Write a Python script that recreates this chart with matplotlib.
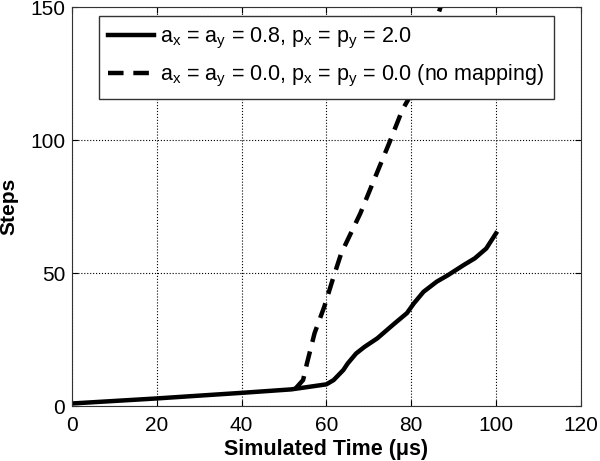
import numpy as np
import matplotlib.pyplot as plt

plt.rcParams['font.family'] = ['Liberation Sans', 'DejaVu Sans']

# solid: a = 0.8, p = 2.0
t_map = [0, 20, 40, 51.7, 60, 61.7, 64, 65, 67, 69, 72, 76, 79, 80.6, 82.9, 86, 88.7, 92.3, 95, 97.7, 100]
steps_map = [1.0, 2.9, 5.0, 6.3, 8.2, 9.8, 13.6, 16, 19.8, 22.3, 25.5, 31, 35, 38.6, 43, 46.8, 49.3, 53, 55.6, 59.3, 65]

# dashed: no mapping
t_nomap = [52.7, 54.5, 55.4, 57.2, 59.5, 61.7, 63.5, 68, 72.5, 74.8, 77.9, 80.6, 86.9, 88.5]
steps_nomap = [6.6, 9.8, 16, 27.4, 37.4, 48.7, 57.5, 72.5, 90, 98.9, 111.4, 119, 150, 156]

lab_map = r'a$_\mathregular{x}$ = a$_\mathregular{y}$ = 0.8, p$_\mathregular{x}$ = p$_\mathregular{y}$ = 2.0'
lab_nomap = r'a$_\mathregular{x}$ = a$_\mathregular{y}$ = 0.0, p$_\mathregular{x}$ = p$_\mathregular{y}$ = 0.0 (no mapping)'

fig = plt.figure(figsize=(6, 4.61), dpi=100)
ax = fig.add_axes([0.12, 0.119, 0.848, 0.865])

ax.plot(t_map, steps_map, color='black', lw=3.2, label=lab_map)
ax.plot(t_nomap, steps_nomap, color='black', lw=3.2, ls=(0, (3.5, 2.2)), label=lab_nomap)

ax.set_xlim(0, 120)
ax.set_ylim(0, 150)
ax.set_xticks(np.arange(0, 121, 20))
ax.set_yticks([0, 50, 100, 150])
ax.grid(True, color='black', ls=':', lw=0.8)
ax.tick_params(direction='in', top=True, right=True, labelsize=15, length=4, pad=5)
ax.tick_params(axis='x', pad=7)
for s in ax.spines.values():
    s.set_color('#333333')

ax.set_xlabel('Simulated Time (μs)', fontsize=15.5, fontweight='bold', labelpad=3)
ax.set_ylabel('Steps', fontsize=15, fontweight='bold')
ax.yaxis.set_label_coords(-0.106, 0.5)

leg = ax.legend(loc='upper center', bbox_to_anchor=(0.5, 0.978), borderaxespad=0, fontsize=15.5,
                fancybox=False, framealpha=1, edgecolor='#333333',
                handlelength=2.1, handletextpad=0.3, borderpad=0.45, labelspacing=0.55)
leg.get_frame().set_linewidth(1.0)

plt.savefig('out.png', dpi=100)
